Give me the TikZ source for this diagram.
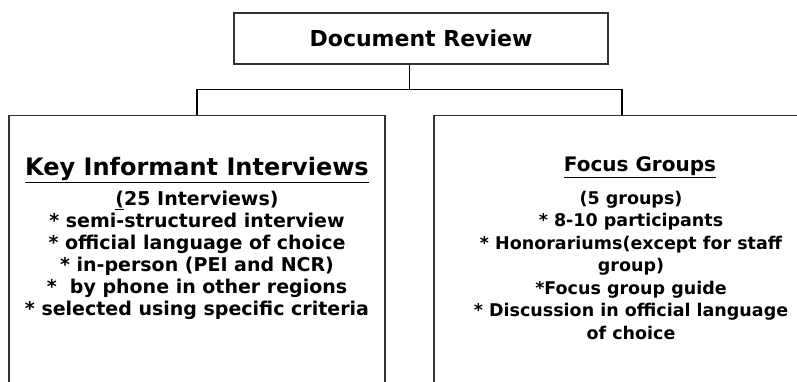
\documentclass[tikz,border=0pt]{standalone}
\usepackage{fontspec}
\setmainfont{DejaVu Sans}
\begin{document}
\begin{tikzpicture}[x=1pt,y=-1pt,
  frame/.style={draw=black!80, line width=1.3pt, inner sep=0pt},
  link/.style={draw=black, line width=0.9pt},
  bar/.style={draw=black, line width=1.8pt},
  headtext/.style={font=\fontsize{24}{28}\selectfont\bfseries, inner sep=0pt},
  bodytext/.style={align=center, inner sep=0pt, font=\fontsize{19}{22}\selectfont\bfseries}]
\useasboundingbox (0,0) rectangle (797,381);
\begin{scope}
\clip (0,0) rectangle (797,381);
% top box
\node[frame, minimum width=374pt, minimum height=51pt] (doc) at (421,38.5) {};
\node[font=\fontsize{22}{26}\selectfont\bfseries] (doctxt) at (doc.center) {Document Review};
% lower boxes, open past the bottom edge
\node[frame, anchor=north, minimum width=376pt, minimum height=300pt] (kii) at (197,114.5) {};
\node[frame, anchor=north, minimum width=376pt, minimum height=300pt] (fg) at (622,114.5) {};
% connectors
\coordinate (joint) at (409,89.5);
\draw[link] (doc.south -| joint) -- (joint);
\draw[bar] (kii.north) |- (joint) -| (fg.north);
% left box text
\node[headtext] (kiihead) at (197,170) {\underline{Key Informant Interviews}};
\node[bodytext] (kiibody) at (197,255) {\underline{(}25 Interviews)\\
* semi-structured interview\\
* official language of choice\\
* in-person (PEI and NCR)\\
*\ \ by phone in other regions\\
* selected using specific criteria};
% right box text
\node[headtext, font=\fontsize{20}{24}\selectfont\bfseries] (fghead) at (640,167) {\underline{Focus Groups}};
\node[bodytext, font=\fontsize{17.5}{22.5}\selectfont\bfseries] (fgbody) at (631,265) {(5 groups)\\
* 8-10 participants\\
* Honorariums(except for staff\\
group)\\
*Focus group guide\\
* Discussion in official language\\
of choice};
\end{scope}
\end{tikzpicture}
\end{document}
